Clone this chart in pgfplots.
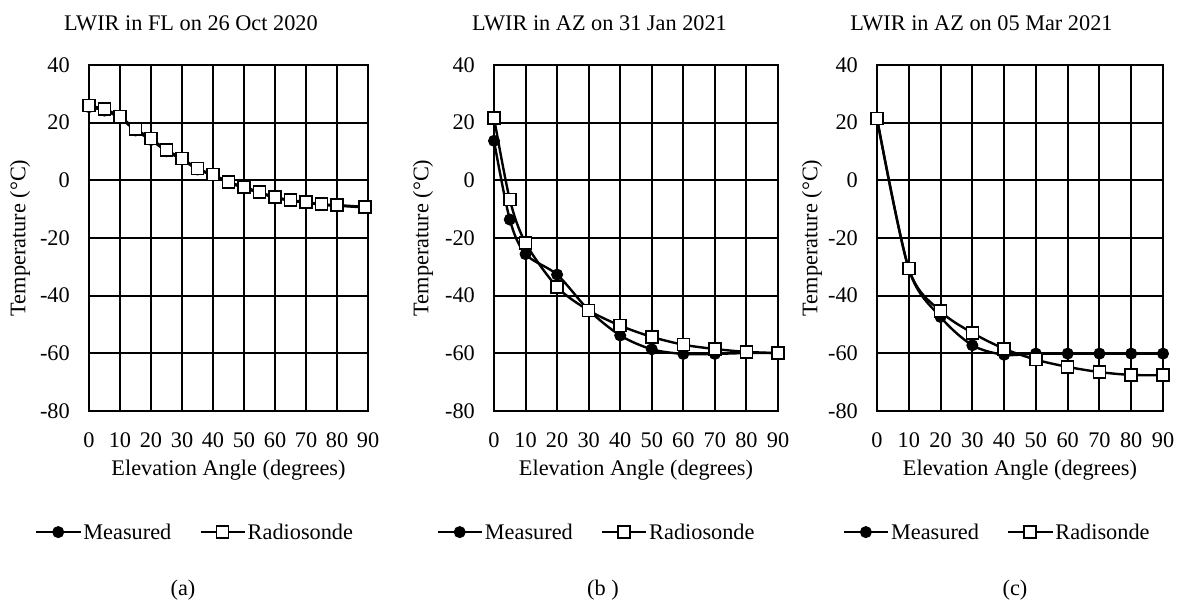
\documentclass[border=0pt]{standalone}
\usepackage{pgfplots}
\pgfplotsset{compat=1.18}
\usepackage{fontspec}
\setmainfont{Liberation Serif}
\newcommand{\fs}{\fontsize{22.3}{24}\selectfont}
\pgfplotsset{
  myaxis/.style={
    scale only axis, height=346pt,
    xmin=0, xmax=90, ymin=-80, ymax=40,
    xtick={0,10,...,90}, ytick={-80,-60,...,40},
    grid=major, major grid style={black, line width=1.9pt},
    axis line style={black, line width=2pt},
    major tick length=0pt,
    /pgf/number format/assume math mode=true,
    tick label style={font=\fs},
    yticklabel style={anchor=east, inner sep=0pt, xshift=-19pt},
    xticklabel style={anchor=center, inner sep=0pt, yshift=-29pt},
    xlabel={Elevation Angle (degrees)},
    ylabel={Temperature (°C)},
    every axis x label/.style={at={(axis description cs:0.5,-0.17)}, anchor=center, font=\fs},
    anchor=south west,
    clip=false,
    legend columns=2,
    legend style={draw=none, fill=none, font=\fs, anchor=center, inner sep=0pt,
      /tikz/every even column/.append style={column sep=26pt}},
    legend image code/.code={\draw[mark repeat=2,mark phase=2,##1] plot coordinates {(0pt,0pt) (22pt,0pt) (44pt,0pt)};},
  },
  meas/.style={black, line width=2.4pt, smooth, mark=*, mark size=5.5pt, mark options={solid, fill=black, line width=1pt}},
  radio/.style={black, line width=2.4pt, smooth, mark=square*, mark size=6pt, mark options={solid, fill=white, line width=1.6pt}},
}
\begin{document}
\begin{tikzpicture}
\path (0pt,0pt) rectangle (1178pt,600pt);
% (a)
\begin{axis}[myaxis, at={(89pt,189pt)}, width=279pt,
  every axis y label/.style={at={(axis description cs:-0.247,0.5)}, rotate=90, anchor=center, font=\fs},
  legend style={at={(axis description cs:0.38,-0.35)}}]
\addplot[meas] coordinates {(0,25.4) (5,24.2) (10,21.6) (15,17.3) (20,14.0) (25,10.1) (30,7.2) (35,3.8) (40,1.7) (45,-0.8) (50,-2.6) (55,-4.4) (60,-6.0) (65,-7.1) (70,-7.7) (75,-8.5) (80,-8.8) (89,-9.4)};
\addlegendentry{Measured}
\addplot[radio] coordinates {(0,25.9) (5,24.7) (10,22.1) (15,17.8) (20,14.5) (25,10.5) (30,7.6) (35,4.1) (40,2.0) (45,-0.5) (50,-2.3) (55,-4.1) (60,-5.8) (65,-6.9) (70,-7.5) (75,-8.3) (80,-8.6) (89,-9.2)};
\addlegendentry{Radiosonde}
\end{axis}
% (b)
\begin{axis}[myaxis, at={(494pt,189pt)}, width=284pt,
  every axis y label/.style={at={(axis description cs:-0.25,0.5)}, rotate=90, anchor=center, font=\fs},
  legend style={at={(axis description cs:0.361,-0.35)}}]
\addplot[meas] coordinates {(0,13.7) (5,-13.6) (10,-25.6) (20,-32.7) (30,-45.0) (40,-53.8) (50,-58.6) (60,-60.2) (70,-60.2) (80,-59.9) (90,-59.9)};
\addlegendentry{Measured}
\addplot[radio] coordinates {(0,21.7) (5,-6.6) (10,-21.7) (20,-37.0) (30,-45.1) (40,-50.4) (50,-54.3) (60,-57.0) (70,-58.5) (80,-59.5) (90,-59.9)};
\addlegendentry{Radiosonde}
\end{axis}
% (c)
\begin{axis}[myaxis, at={(877pt,189pt)}, width=286pt,
  every axis y label/.style={at={(axis description cs:-0.227,0.5)}, rotate=90, anchor=center, font=\fs},
  legend style={at={(axis description cs:0.42,-0.35)}}]
\addplot[meas] coordinates {(0,21.3) (10,-30.8) (20,-47.4) (30,-57.2) (40,-60.5) (50,-60.1) (60,-60.1) (70,-60.1) (80,-60.1) (90,-60.1)};
\addlegendentry{Measured}
\addplot[radio] coordinates {(0,21.5) (10,-30.6) (20,-45.4) (30,-52.9) (40,-58.4) (50,-62.2) (60,-64.7) (70,-66.5) (80,-67.5) (90,-67.6)};
\addlegendentry{Radisonde}
\end{axis}
\node[font=\fs] at (191pt,577pt) {LWIR in FL on 26 Oct 2020};
\node[font=\fs] at (599.5pt,577pt) {LWIR in AZ on 31 Jan 2021};
\node[font=\fs] at (981.5pt,577pt) {LWIR in AZ on 05 Mar 2021};
\node[font=\fs] at (183pt,10pt) {(a)};
\node[font=\fs] at (603pt,10pt) {(b )};
\node[font=\fs] at (1015pt,10pt) {(c)};
\end{tikzpicture}
\end{document}
